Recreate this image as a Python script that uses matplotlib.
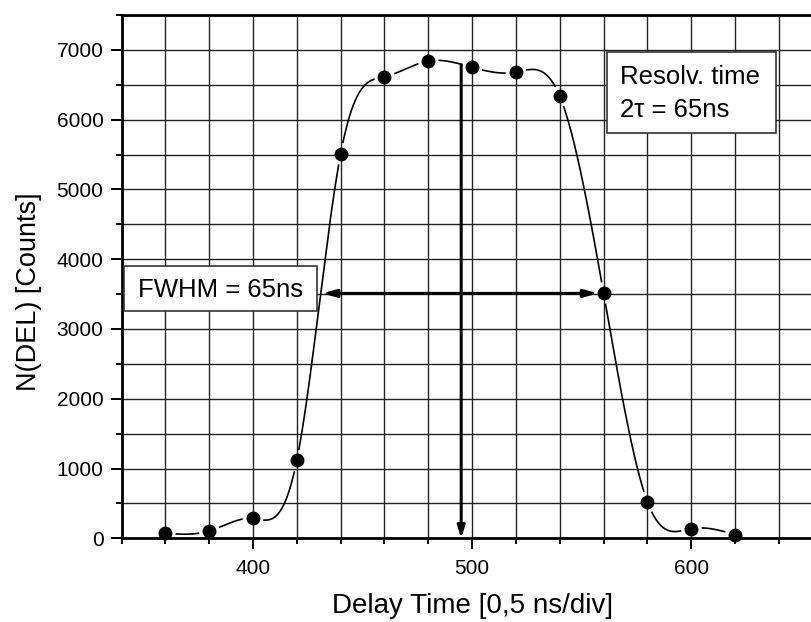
import numpy as np
import matplotlib
matplotlib.use("Agg")
import matplotlib.pyplot as plt
from matplotlib.patches import Rectangle

plt.rcParams['font.family'] = ['Liberation Sans', 'DejaVu Sans']

# ---- data ----
delay = [360, 380, 400, 420, 440, 460, 480, 500, 520, 540, 560, 580, 600, 620]
counts = [70, 105, 285, 1120, 5510, 6615, 6840, 6750, 6680, 6335, 3510, 520, 138, 52]
x_ticks_major = [400, 500, 600]
y_ticks_major = [0, 1000, 2000, 3000, 4000, 5000, 6000, 7000]
fwhm_arrow_x = [431.5, 557.5]
fwhm_arrow_y = 3510
centre_arrow_x = 495
centre_arrow_top = 6785
fwhm_text = "FWHM = 65ns"
resolv_text = ["Resolv. time", "2\u03c4 = 65ns"]
x_label = "Delay Time [0,5 ns/div]"
y_label = "N(DEL) [Counts]"

W, H = 811, 622
fig = plt.figure(figsize=(W / 100, H / 100), dpi=100)

def fx(px):
    return px / W

def fy(py):
    return 1 - py / H

ax_left, ax_top, ax_bottom = 121.5, 15.0, 538.3
ax_right = 822.8
ax = fig.add_axes([fx(ax_left), fy(ax_bottom), fx(ax_right - ax_left), (ax_bottom - ax_top) / H])
ax.set_xlim(340, 660)
ax.set_ylim(0, 7500)

ax.set_xticks(x_ticks_major)
ax.set_xticks(np.arange(340, 661, 20), minor=True)
ax.set_yticks(y_ticks_major)
ax.set_yticks(np.arange(0, 7501, 500), minor=True)
ax.grid(True, which='both', color='#222222', lw=1.0)
ax.set_axisbelow(True)
ax.tick_params(which='major', length=8, width=1.4, labelsize=15, pad=5, direction='out')
ax.tick_params(axis='x', which='major', pad=7)
ax.tick_params(which='minor', length=4, width=1.4, direction='out')
for s in ['left', 'bottom', 'top']:
    ax.spines[s].set_linewidth(2.0)
ax.spines['right'].set_visible(False)

# natural cubic spline through the points (for the smooth curve)
xd = np.array(delay, float)
yd = np.array(counts, float)
n = len(xd)
h = np.diff(xd)
A = np.zeros((n, n))
b = np.zeros(n)
A[0, 0] = 1
A[-1, -1] = 1
for i in range(1, n - 1):
    A[i, i - 1] = h[i - 1]
    A[i, i] = 2 * (h[i - 1] + h[i])
    A[i, i + 1] = h[i]
    b[i] = 6 * ((yd[i + 1] - yd[i]) / h[i] - (yd[i] - yd[i - 1]) / h[i - 1])
M = np.linalg.solve(A, b)
xs = np.linspace(xd[0], xd[-1], 3000)
idx = np.clip(np.searchsorted(xd, xs) - 1, 0, n - 2)
x0, x1 = xd[idx], xd[idx + 1]
hh = x1 - x0
t0 = x1 - xs
t1 = xs - x0
ys = (M[idx] * t0 ** 3 / (6 * hh) + M[idx + 1] * t1 ** 3 / (6 * hh)
      + (yd[idx] / hh - M[idx] * hh / 6) * t0 + (yd[idx + 1] / hh - M[idx + 1] * hh / 6) * t1)

# gaps in the line around each symbol
pts = ax.transData.transform(np.column_stack([xs, ys]))
mk = ax.transData.transform(np.column_stack([xd, yd]))
d = np.min(np.hypot(pts[:, None, 0] - mk[None, :, 0], pts[:, None, 1] - mk[None, :, 1]), axis=1)
ys_plot = ys.copy()
ys_plot[d < 11] = np.nan
ax.plot(xs, ys_plot, color='black', lw=1.2, zorder=3)
ax.plot(xd, yd, 'o', color='black', ms=9, zorder=4, clip_on=False)

# arrows
ax.annotate('', xy=(centre_arrow_x, 0), xytext=(centre_arrow_x, centre_arrow_top),
            arrowprops=dict(arrowstyle='-|>,head_length=0.7,head_width=0.22', lw=2.2,
                            color='black', shrinkA=0, shrinkB=0), zorder=5)
ax.annotate('', xy=(fwhm_arrow_x[1], fwhm_arrow_y), xytext=(fwhm_arrow_x[0], fwhm_arrow_y),
            arrowprops=dict(arrowstyle='<|-|>,head_length=0.8,head_width=0.22', lw=2.2,
                            color='black', shrinkA=0, shrinkB=0), zorder=5)

# text boxes (figure pixel placement)
fig.add_artist(Rectangle((fx(124.3), fy(310.7)), fx(316.7 - 124.3), (310.7 - 265.7) / H,
                         transform=fig.transFigure, facecolor='white', edgecolor='#333333',
                         lw=1.2, zorder=6))
fig.text(fx(137.7), fy(296.7), fwhm_text, fontsize=18.5, ha='left', va='baseline', zorder=7)
fig.add_artist(Rectangle((fx(606.7), fy(132.7)), fx(776 - 606.7), (132.7 - 51.7) / H,
                         transform=fig.transFigure, facecolor='white', edgecolor='#333333',
                         lw=1.2, zorder=6))
fig.text(fx(620), fy(84.3), resolv_text[0], fontsize=18.5, ha='left', va='baseline', zorder=7)
fig.text(fx(620), fy(116.7), resolv_text[1], fontsize=18.5, ha='left', va='baseline', zorder=7)

# axis labels
fig.text(fx(472.5), fy(613), x_label, fontsize=20, ha='center', va='baseline')
fig.text(fx(29), fy(291.5), y_label, fontsize=19.5, ha='center', va='center', rotation=90)

fig.savefig('out.png', dpi=100)
